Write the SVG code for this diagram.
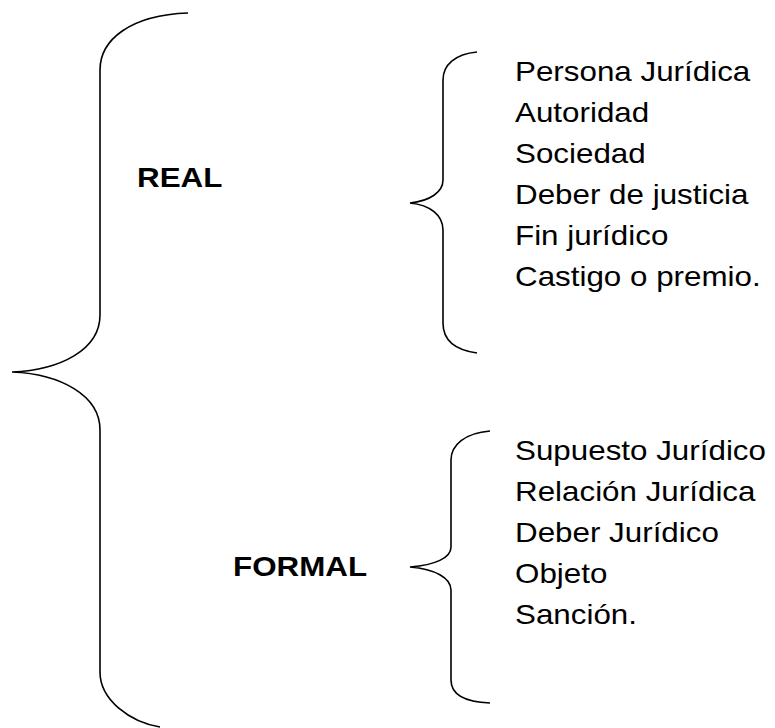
<svg xmlns="http://www.w3.org/2000/svg" width="775" height="728" viewBox="0 0 775 728">
<style>
.brace{fill:none;stroke:#000;stroke-width:1.6}
.t{font-family:"Liberation Sans",Arial,sans-serif;font-size:28px;fill:#000}
.b{font-family:"Liberation Sans",Arial,sans-serif;font-size:28px;font-weight:bold;fill:#000}
</style>
<rect width="775" height="728" fill="#fff"/>
<g id="connectors">
<path class="brace" d="M188,13 C130,15 100,40 100,70 L100,315 C100,350 60,370 12,372 C60,374 100,395 100,430 L100,672 C100,700 130,722 160,727"/>
<path class="brace" d="M477,52 C455,54 443,65 443,80 L443,180 C443,192 430,201 410,203 C430,205 443,215 443,230 L443,323 C443,340 455,350 477,353"/>
<path class="brace" d="M490,431 C465,433 451,445 451,460 L451,547 C451,558 435,565 410,567 C435,569 451,578 451,590 L451,680 C451,695 465,702 490,703"/>
</g>
<g id="real" transform="translate(137,0) scale(1.12,1)"><text class="b" x="0" y="187">REAL</text></g>
<g id="formal" transform="translate(233,0) scale(1.12,1)"><text class="b" x="0" y="576">FORMAL</text></g>
<g id="real-items" transform="translate(515,0) scale(1.12,1)">
<text class="t" x="0" y="81">Persona Jurídica</text>
<text class="t" x="0" y="122">Autoridad</text>
<text class="t" x="0" y="163">Sociedad</text>
<text class="t" x="0" y="204">Deber de justicia</text>
<text class="t" x="0" y="245">Fin jurídico</text>
<text class="t" x="0" y="286">Castigo o premio.</text>
</g>
<g id="formal-items" transform="translate(515,0) scale(1.12,1)">
<text class="t" x="0" y="460">Supuesto Jurídico</text>
<text class="t" x="0" y="501">Relación Jurídica</text>
<text class="t" x="0" y="542">Deber Jurídico</text>
<text class="t" x="0" y="583">Objeto</text>
<text class="t" x="0" y="624">Sanción.</text>
</g>
</svg>
